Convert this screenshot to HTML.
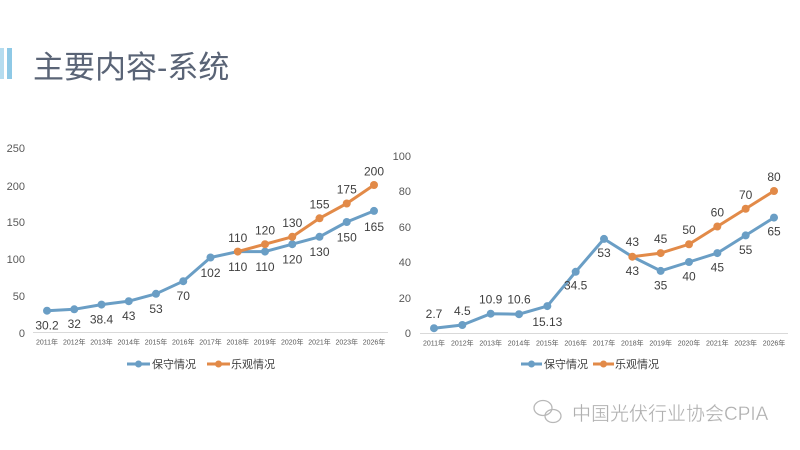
<!DOCTYPE html>
<html><head><meta charset="utf-8"><style>
html,body{margin:0;padding:0;background:#fff;}
svg{display:block;}
text{font-family:"Liberation Sans","Noto Sans CJK SC",sans-serif;}
</style></head><body>
<svg width="800" height="450" viewBox="0 0 800 450" xmlns="http://www.w3.org/2000/svg">
<rect width="800" height="450" fill="#fff"/>
<!-- title -->
<rect x="0" y="48" width="4" height="31" fill="#b5dcef"/>
<rect x="7" y="48" width="5" height="31" fill="#8ec9e6"/>
<text x="33" y="78" font-size="31" fill="#5a6476">主要内容-系统</text>

<!-- LEFT CHART -->
<g font-size="11" fill="#595959" text-anchor="end">
<text x="25" y="152">250</text>
<text x="25" y="190">200</text>
<text x="25" y="226">150</text>
<text x="25" y="263">100</text>
<text x="25" y="300">50</text>
<text x="25" y="337">0</text>
</g>
<line x1="33" y1="332.5" x2="388" y2="332.5" stroke="#d9d9d9" stroke-width="1"/>
<g font-size="7" fill="#595959" text-anchor="middle">
<text x="47" y="344.5">2011年</text><text x="74.25" y="344.5">2012年</text><text x="101.5" y="344.5">2013年</text><text x="128.75" y="344.5">2014年</text><text x="156" y="344.5">2015年</text><text x="183.25" y="344.5">2016年</text><text x="210.5" y="344.5">2017年</text><text x="237.75" y="344.5">2018年</text><text x="265" y="344.5">2019年</text><text x="292.25" y="344.5">2020年</text><text x="319.5" y="344.5">2021年</text><text x="346.75" y="344.5">2023年</text><text x="374" y="344.5">2026年</text>
</g>
<polyline fill="none" stroke="#6a9ec5" stroke-width="3" stroke-linejoin="round" points="47,310.7 74.25,309.3 101.5,304.6 128.75,301.2 156,293.8 183.25,281.2 210.5,257.5 237.75,251.6 265,251.6 292.25,244.2 319.5,236.8 346.75,222 374,210.9"/>
<g fill="#6a9ec5">
<circle cx="47" cy="310.7" r="4"/><circle cx="74.25" cy="309.3" r="4"/><circle cx="101.5" cy="304.6" r="4"/><circle cx="128.75" cy="301.2" r="4"/><circle cx="156" cy="293.8" r="4"/><circle cx="183.25" cy="281.2" r="4"/><circle cx="210.5" cy="257.5" r="4"/><circle cx="265" cy="251.6" r="4"/><circle cx="292.25" cy="244.2" r="4"/><circle cx="319.5" cy="236.8" r="4"/><circle cx="346.75" cy="222" r="4"/><circle cx="374" cy="210.9" r="4"/>
</g>
<polyline fill="none" stroke="#e28a48" stroke-width="3" stroke-linejoin="round" points="237.75,251.6 265,244.2 292.25,236.8 319.5,218.3 346.75,203.5 374,185"/>
<g fill="#e28a48">
<circle cx="237.75" cy="251.6" r="4"/><circle cx="265" cy="244.2" r="4"/><circle cx="292.25" cy="236.8" r="4"/><circle cx="319.5" cy="218.3" r="4"/><circle cx="346.75" cy="203.5" r="4"/><circle cx="374" cy="185" r="4"/>
</g>
<g font-size="12" fill="#404040" text-anchor="middle">
<text x="47" y="329.5">30.2</text><text x="74.25" y="328">32</text><text x="101.5" y="323.5">38.4</text><text x="128.75" y="320">43</text><text x="156" y="313">53</text><text x="183.25" y="300">70</text><text x="210.5" y="277">102</text><text x="237.75" y="271">110</text><text x="265" y="271">110</text><text x="292.25" y="263.5">120</text><text x="319.5" y="256">130</text><text x="346.75" y="241.5">150</text><text x="374" y="231">165</text>
<text x="237.75" y="242">110</text><text x="265" y="234.5">120</text><text x="292.25" y="227">130</text><text x="319.5" y="208.5">155</text><text x="346.75" y="193.5">175</text><text x="374" y="175.5">200</text>
</g>
<!-- legend left -->
<line x1="127" y1="364" x2="150" y2="364" stroke="#6a9ec5" stroke-width="3"/><circle cx="138.5" cy="364" r="3.5" fill="#6a9ec5"/>
<text x="152" y="368" font-size="11" fill="#404040">保守情况</text>
<line x1="207" y1="364" x2="230" y2="364" stroke="#e28a48" stroke-width="3"/><circle cx="218.5" cy="364" r="3.5" fill="#e28a48"/>
<text x="231" y="368" font-size="11" fill="#404040">乐观情况</text>

<!-- RIGHT CHART -->
<g font-size="11" fill="#595959" text-anchor="end">
<text x="411" y="160">100</text>
<text x="411" y="195">80</text>
<text x="411" y="231">60</text>
<text x="411" y="266">40</text>
<text x="411" y="302">20</text>
<text x="411" y="337">0</text>
</g>
<line x1="420" y1="333.5" x2="788" y2="333.5" stroke="#d9d9d9" stroke-width="1"/>
<g font-size="7" fill="#595959" text-anchor="middle">
<text x="434" y="345.5">2011年</text><text x="462.33" y="345.5">2012年</text><text x="490.67" y="345.5">2013年</text><text x="519" y="345.5">2014年</text><text x="547.33" y="345.5">2015年</text><text x="575.67" y="345.5">2016年</text><text x="604" y="345.5">2017年</text><text x="632.33" y="345.5">2018年</text><text x="660.67" y="345.5">2019年</text><text x="689" y="345.5">2020年</text><text x="717.33" y="345.5">2021年</text><text x="745.67" y="345.5">2023年</text><text x="774" y="345.5">2026年</text>
</g>
<polyline fill="none" stroke="#6a9ec5" stroke-width="3" stroke-linejoin="round" points="434,328.2 462.33,325 490.67,313.7 519,314.2 547.33,306.1 575.67,271.8 604,238.9 632.33,256.7 660.67,270.9 689,262 717.33,253.1 745.67,235.4 774,217.6"/>
<g fill="#6a9ec5">
<circle cx="434" cy="328.2" r="4"/><circle cx="462.33" cy="325" r="4"/><circle cx="490.67" cy="313.7" r="4"/><circle cx="519" cy="314.2" r="4"/><circle cx="547.33" cy="306.1" r="4"/><circle cx="575.67" cy="271.8" r="4"/><circle cx="604" cy="238.9" r="4"/><circle cx="660.67" cy="270.9" r="4"/><circle cx="689" cy="262" r="4"/><circle cx="717.33" cy="253.1" r="4"/><circle cx="745.67" cy="235.4" r="4"/><circle cx="774" cy="217.6" r="4"/>
</g>
<polyline fill="none" stroke="#e28a48" stroke-width="3" stroke-linejoin="round" points="632.33,256.7 660.67,253.1 689,244.25 717.33,226.5 745.67,208.75 774,191"/>
<g fill="#e28a48">
<circle cx="632.33" cy="256.7" r="4"/><circle cx="660.67" cy="253.1" r="4"/><circle cx="689" cy="244.25" r="4"/><circle cx="717.33" cy="226.5" r="4"/><circle cx="745.67" cy="208.75" r="4"/><circle cx="774" cy="191" r="4"/>
</g>
<g font-size="12" fill="#404040" text-anchor="middle">
<text x="434" y="318">2.7</text><text x="462.33" y="315">4.5</text><text x="490.67" y="303.5">10.9</text><text x="519" y="303.5">10.6</text><text x="547.33" y="326">15.13</text><text x="575.67" y="289.5">34.5</text><text x="604" y="257">53</text><text x="632.33" y="275">43</text><text x="660.67" y="289.5">35</text><text x="689" y="280.5">40</text><text x="717.33" y="271.5">45</text><text x="745.67" y="254">55</text><text x="774" y="235.5">65</text>
<text x="632.33" y="246">43</text><text x="660.67" y="243">45</text><text x="689" y="234">50</text><text x="717.33" y="216.5">60</text><text x="745.67" y="199">70</text><text x="774" y="181">80</text>
</g>
<!-- legend right -->
<line x1="521" y1="364" x2="542" y2="364" stroke="#6a9ec5" stroke-width="3"/><circle cx="531.5" cy="364" r="3.5" fill="#6a9ec5"/>
<text x="544" y="368" font-size="11" fill="#404040">保守情况</text>
<line x1="593" y1="364" x2="614" y2="364" stroke="#e28a48" stroke-width="3"/><circle cx="603.5" cy="364" r="3.5" fill="#e28a48"/>
<text x="615" y="368" font-size="11" fill="#404040">乐观情况</text>

<!-- watermark -->
<g fill="none" stroke="#b8b8b8" stroke-width="1.3">
<ellipse cx="543" cy="408" rx="9" ry="7.5"/>
<ellipse cx="553" cy="416" rx="8" ry="6.5"/>
</g>
<text x="572" y="420" font-size="19" fill="#b0b0b0" stroke="#ffffff" stroke-width="0.3">中国光伏行业协会CPIA</text>
</svg>
</body></html>
